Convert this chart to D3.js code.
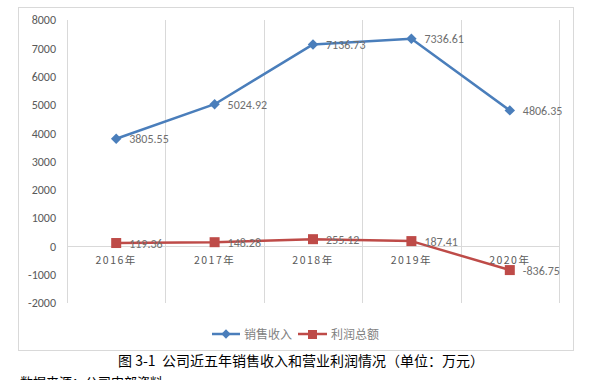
<!DOCTYPE html>
<html><head><meta charset="utf-8">
<script src="https://cdn.jsdelivr.net/npm/d3@7"></script>
<style>body{margin:0;background:#fff;}svg{display:block;}</style>
</head><body>
<script>
const categories = ["2016年","2017年","2018年","2019年","2020年"];
const sales = [3805.55, 5024.92, 7136.73, 7336.61, 4806.35];
const profit = [119.36, 148.28, 255.12, 187.41, -836.75];
const yTicks = [-2000,-1000,0,1000,2000,3000,4000,5000,6000,7000,8000];
const seriesNames = ["销售收入","利润总额"];
const caption = "图 3-1  公司近五年销售收入和营业利润情况（单位：万元）";
const source = "数据来源：公司内部资料";

const W=594,H=380;
const svg=d3.select("body").append("svg").attr("width",W).attr("height",H);
const font="'Microsoft YaHei','Noto Sans CJK SC','Noto Sans',sans-serif";
const numFont="Calibri,Carlito,'Liberation Sans','DejaVu Sans',sans-serif";
const fmt=d=>d.toFixed(2);

// chart box
svg.append("rect").attr("x",18.5).attr("y",7.5).attr("width",555).attr("height",343)
  .attr("fill","#fff").attr("stroke","#d9d9d9");

const x=d3.scaleBand().domain(categories).range([67,559]);
const y=d3.scaleLinear().domain([-2000,8000]).range([303,20]);

// vertical gridlines at category boundaries
const bounds=categories.map(c=>x(c)).concat([x.range()[1]]);
svg.append("g").selectAll("line").data(bounds).join("line")
  .attr("x1",d=>Math.round(d)+0.5).attr("x2",d=>Math.round(d)+0.5)
  .attr("y1",y(8000)).attr("y2",y(-2000))
  .attr("stroke","#d9d9d9").attr("stroke-width",1);

// zero axis line
svg.append("line").attr("x1",67).attr("x2",559)
  .attr("y1",Math.round(y(0))+0.5).attr("y2",Math.round(y(0))+0.5)
  .attr("stroke","#d9d9d9");

// y axis labels
const yAxis=d3.axisLeft(y).tickValues(yTicks).tickSize(0).tickPadding(0).tickFormat(d=>String(d));
const ya=svg.append("g").attr("transform","translate(56,0)").call(yAxis);
ya.select(".domain").remove();
ya.selectAll("text").attr("font-family",numFont).attr("font-size",12).attr("fill","#595959");

// category labels
svg.append("g").selectAll("text").data(categories).join("text")
  .attr("x",d=>x(d)+x.bandwidth()/2).attr("y",y(0)+18)
  .attr("text-anchor","middle").attr("font-family",font).attr("font-size",10.5)
  .attr("letter-spacing","1.5px").attr("fill","#595959").text(d=>d);

const cx=d=>x(d)+x.bandwidth()/2;
const line=d3.line().x((d,i)=>cx(categories[i])).y(d=>y(d));

// sales line
svg.append("path").datum(sales).attr("d",line).attr("fill","none")
  .attr("stroke","#4a7ebb").attr("stroke-width",2.5).attr("stroke-linejoin","round");
svg.append("g").selectAll("rect").data(sales).join("rect")
  .attr("x",-3.7).attr("y",-3.7).attr("width",7.4).attr("height",7.4)
  .attr("transform",(d,i)=>`translate(${cx(categories[i])},${y(d)}) rotate(45)`)
  .attr("fill","#4a7ebb");

// profit line
svg.append("path").datum(profit).attr("d",line).attr("fill","none")
  .attr("stroke","#be4b48").attr("stroke-width",2.5).attr("stroke-linejoin","round");
svg.append("g").selectAll("rect").data(profit).join("rect")
  .attr("x",(d,i)=>cx(categories[i])-5).attr("y",d=>y(d)-5)
  .attr("width",10).attr("height",10).attr("fill","#be4b48");

// data labels
const lab=(arr)=>svg.append("g").selectAll("text").data(arr).join("text")
  .attr("x",(d,i)=>cx(categories[i])+13).attr("y",d=>y(d)+4.5)
  .attr("font-family",numFont).attr("font-size",12).attr("fill","#6f6f6f")
  .text(fmt);
lab(sales); lab(profit);

// legend
const lg=svg.append("g");
lg.append("line").attr("x1",212).attr("x2",240).attr("y1",334).attr("y2",334).attr("stroke","#4a7ebb").attr("stroke-width",2.5);
lg.append("rect").attr("x",-3.3).attr("y",-3.3).attr("width",6.6).attr("height",6.6).attr("transform","translate(226,334) rotate(45)").attr("fill","#4a7ebb");
lg.append("text").attr("x",244).attr("y",338.5).attr("font-family",font).attr("font-size",12).attr("fill","#7f7f7f").text(seriesNames[0]);
lg.append("line").attr("x1",298).attr("x2",327).attr("y1",334).attr("y2",334).attr("stroke","#be4b48").attr("stroke-width",2.5);
lg.append("rect").attr("x",308).attr("y",330).attr("width",9).attr("height",9).attr("fill","#be4b48");
lg.append("text").attr("x",331).attr("y",338.5).attr("font-family",font).attr("font-size",12).attr("fill","#7f7f7f").text(seriesNames[1]);

// caption
svg.append("text").attr("x",301).attr("y",366).attr("text-anchor","middle")
  .attr("font-family",font).attr("font-size",14).attr("fill","#000").attr("xml:space","preserve").text(caption);
svg.append("text").attr("x",20).attr("y",387).attr("font-family",font).attr("font-size",13).attr("fill","#000").text(source);
</script>
</body></html>
